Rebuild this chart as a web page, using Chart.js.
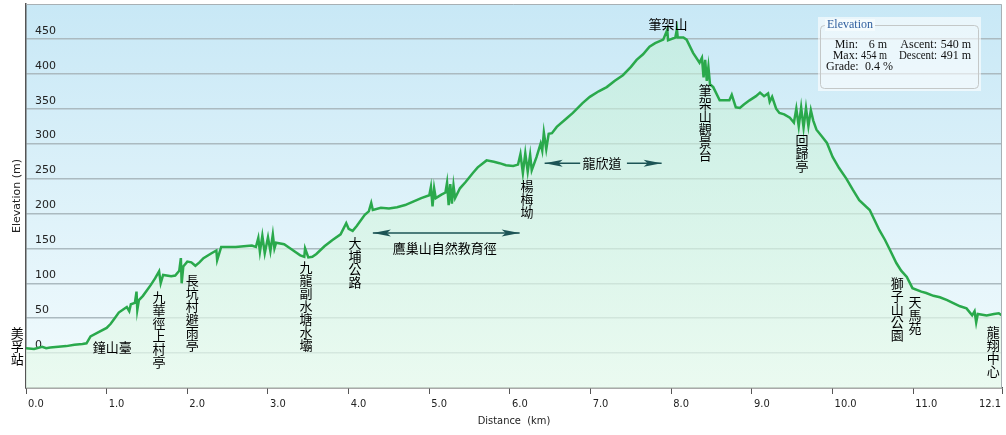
<!DOCTYPE html>
<html>
<head>
<meta charset="utf-8">
<script src="https://cdn.jsdelivr.net/npm/chart.js@4/dist/chart.umd.min.js"></script>
<style>
  html, body { margin: 0; padding: 0; background: #ffffff; }
  #wrap { width: 1006px; height: 435px; }
</style>
</head>
<body>
<div id="wrap"><canvas id="js--profile"></canvas></div>
<script>
// distance along the trail (km) and elevation (m)
const distKm = [
  0.00, 0.10, 0.20, 0.25, 0.30, 0.40, 0.50, 0.60, 0.70, 0.75,
  0.80, 0.90, 1.00, 1.05, 1.10, 1.15, 1.20, 1.25, 1.28, 1.30,
  1.35, 1.37, 1.38, 1.40, 1.45, 1.50, 1.55, 1.60, 1.65, 1.67,
  1.70, 1.80, 1.85, 1.90, 1.92, 1.93, 1.95, 2.00, 2.05, 2.10,
  2.15, 2.20, 2.30, 2.36, 2.37, 2.42, 2.50, 2.60, 2.70, 2.80,
  2.85, 2.88, 2.90, 2.93, 2.96, 3.00, 3.03, 3.06, 3.08, 3.10,
  3.20, 3.30, 3.40, 3.45, 3.46, 3.50, 3.55, 3.60, 3.70, 3.80,
  3.90, 3.97, 4.00, 4.05, 4.10, 4.20, 4.25, 4.28, 4.30, 4.40,
  4.50, 4.60, 4.70, 4.80, 4.90, 5.00, 5.02, 5.04, 5.06, 5.08,
  5.15, 5.20, 5.22, 5.24, 5.26, 5.28, 5.30, 5.32, 5.38, 5.45,
  5.54, 5.60, 5.71, 5.80, 5.87, 5.95, 6.04, 6.10, 6.13, 6.16,
  6.19, 6.22, 6.25, 6.27, 6.33, 6.38, 6.40, 6.42, 6.45, 6.48,
  6.52, 6.58, 6.70, 6.78, 6.90, 6.99, 7.10, 7.20, 7.30, 7.40,
  7.50, 7.57, 7.65, 7.73, 7.80, 7.90, 7.95, 7.96, 8.05, 8.07,
  8.08, 8.15, 8.19, 8.27, 8.35, 8.38, 8.40, 8.42, 8.44, 8.46,
  8.48, 8.52, 8.60, 8.66, 8.72, 8.75, 8.80, 8.85, 8.90, 8.97,
  9.05, 9.10, 9.15, 9.20, 9.22, 9.25, 9.30, 9.34, 9.40, 9.47,
  9.52, 9.55, 9.58, 9.61, 9.64, 9.67, 9.70, 9.73, 9.76, 9.80,
  9.87, 9.93, 10.00, 10.08, 10.17, 10.25, 10.33, 10.46, 10.58, 10.65,
  10.71, 10.79, 10.85, 10.92, 10.99, 11.10, 11.16, 11.25, 11.33, 11.42,
  11.49, 11.58, 11.66, 11.73, 11.76, 11.78, 11.80, 11.91, 12.00, 12.06,
  12.10
];
const elevM = [
  7, 6, 9, 7, 8, 9, 10, 12, 13, 14,
  24, 30, 36, 42, 50, 58, 62, 66, 60, 70,
  72, 88, 62, 76, 82, 90, 98, 107, 117, 100,
  112, 110, 111, 118, 136, 100, 124, 131, 130, 125,
  130, 136, 143, 147, 133, 152, 152, 152, 153, 154,
  152, 165, 145, 168, 143, 166, 146, 170, 150, 158,
  156, 148, 140, 138, 150, 137, 138, 142, 153, 162,
  170, 186, 178, 175, 182, 198, 203, 215, 205, 208,
  207, 209, 212, 217, 222, 226, 238, 210, 236, 222,
  227, 230, 244, 212, 242, 214, 240, 222, 236, 245,
  258, 266, 276, 274, 272, 269, 268, 270, 285, 258,
  286, 260, 284, 262, 281, 300, 290, 316, 292, 314,
  315, 324, 336, 344, 358, 367, 375, 381, 390, 398,
  410, 420, 428, 439, 444, 449, 463, 448, 452, 464,
  452, 452, 449, 430, 416, 423, 395, 420, 390, 410,
  385, 381, 362, 362, 362, 370, 352, 351, 356, 362,
  368, 373, 368, 372, 360, 367, 350, 344, 342, 337,
  330, 350, 325, 352, 323, 351, 325, 348, 333, 320,
  310, 301, 281, 265, 250, 234, 219, 205, 176, 162,
  148, 129, 118, 109, 93, 88, 86, 82, 80, 76,
  72, 67, 64, 54, 60, 44, 56, 54, 56, 57,
  54
];

const xTicks = [0, 1, 2, 3, 4, 5, 6, 7, 8, 9, 10, 11, 12.1];
const yTicks = [0, 50, 100, 150, 200, 250, 300, 350, 400, 450];

// place names: text, km, m (first character), vertical or not
const places = [
  ["美孚站", -0.11, 29, true],
  ["鐘山臺", 1.07, 9, false],
  ["九華徑上村亭", 1.65, 80, true],
  ["長坑村避雨亭", 2.06, 104, true],
  ["九龍副水塘水壩", 3.47, 123, true],
  ["大埔公路", 4.08, 157, true],
  ["鷹巢山自然教育徑", 5.19, 150, false],
  ["楊梅坳", 6.21, 239, true],
  ["龍欣道", 7.14, 272, false],
  ["筆架山", 7.96, 471, false],
  ["筆架山觀景台", 8.42, 377, true],
  ["回歸亭", 9.62, 305, true],
  ["獅子山公園", 10.80, 100, true],
  ["天馬苑", 11.02, 73, true],
  ["龍翔中心", 11.99, 30, true]
];
// trail sections: from km, to km, at m, gap for the name
const sections = [
  [4.30, 6.12, 172, 0, 0],
  [6.43, 7.88, 272, 6.87, 7.45]
];

const statsTitle = "Elevation";
const statsRows = [
  ["Min:", "6 m", "Ascent:", "540 m"],
  ["Max:", "454 m", "Descent:", "491 m"]
];
const gradeText = ["Grade:", "0.4 %"];

const points = distKm.map(function (d, i) {
  return { x: d, y: elevM[i] };
});

const cjkFont = '13px "Noto Sans CJK TC", "Noto Sans CJK SC", sans-serif';

const backdrop = {
  id: "backdrop",
  beforeDraw: function (chart) {
    const ctx = chart.ctx;
    const a = chart.chartArea;
    const g = ctx.createLinearGradient(0, a.top, 0, a.bottom);
    g.addColorStop(0, "#c8e8f6");
    g.addColorStop(1, "#f2fbfd");
    ctx.save();
    ctx.fillStyle = g;
    ctx.fillRect(a.left, a.top, a.right - a.left, a.bottom - a.top);
    ctx.restore();
  },
  afterDraw: function (chart) {
    const ctx = chart.ctx;
    const a = chart.chartArea;
    const xs = chart.scales.x;
    const ys = chart.scales.y;
    ctx.save();

    // frame top and right
    ctx.strokeStyle = "#a8b0b4";
    ctx.lineWidth = 1;
    ctx.beginPath();
    ctx.moveTo(a.left, a.top + 0.5);
    ctx.lineTo(a.right - 0.5, a.top + 0.5);
    ctx.lineTo(a.right - 0.5, a.bottom);
    ctx.stroke();

    // x tick labels
    ctx.fillStyle = "#222";
    ctx.font = '11px "DejaVu Sans Condensed", "Liberation Sans Narrow", "Liberation Sans", sans-serif';
    ctx.textBaseline = "middle";
    xs.ticks.forEach(function (t, i) {
      const px = xs.getPixelForValue(t.value);
      if (i === xs.ticks.length - 1) {
        ctx.textAlign = "right";
        ctx.fillText(t.value.toFixed(1), px - 1, a.bottom + 16);
      } else {
        ctx.textAlign = "left";
        ctx.fillText(t.value.toFixed(1), px + 2, a.bottom + 16);
      }
    });

    // place names
    ctx.fillStyle = "#000";
    ctx.font = cjkFont;
    ctx.textAlign = "center";
    ctx.textBaseline = "middle";
    places.forEach(function (p) {
      const px = xs.getPixelForValue(p[1]);
      const py = ys.getPixelForValue(p[2]);
      if (p[3]) {
        const chars = Array.from(p[0]);
        chars.forEach(function (c, k) {
          ctx.fillText(c, px, py + k * 13);
        });
      } else {
        ctx.fillText(p[0], px, py);
      }
    });

    // section arrows
    ctx.strokeStyle = "#1d5456";
    ctx.fillStyle = "#1d5456";
    ctx.lineWidth = 1.5;
    sections.forEach(function (s) {
      const x1 = xs.getPixelForValue(s[0]);
      const x2 = xs.getPixelForValue(s[1]);
      const py = ys.getPixelForValue(s[2]);
      ctx.beginPath();
      if (s[3]) {
        ctx.moveTo(x1, py);
        ctx.lineTo(xs.getPixelForValue(s[3]), py);
        ctx.moveTo(xs.getPixelForValue(s[4]), py);
        ctx.lineTo(x2, py);
      } else {
        ctx.moveTo(x1, py);
        ctx.lineTo(x2, py);
      }
      ctx.stroke();
      [[x1, 1], [x2, -1]].forEach(function (h) {
        ctx.beginPath();
        ctx.moveTo(h[0], py);
        ctx.lineTo(h[0] + h[1] * 18, py - 3.5);
        ctx.lineTo(h[0] + h[1] * 14, py);
        ctx.lineTo(h[0] + h[1] * 18, py + 3.5);
        ctx.closePath();
        ctx.fill();
      });
    });

    // stats box
    const bx = a.right - 184;
    const by = a.top + 13;
    ctx.fillStyle = "rgba(255,255,255,0.6)";
    ctx.fillRect(bx, by, 163, 74);
    ctx.strokeStyle = "#c4c8c8";
    ctx.lineWidth = 1;
    ctx.beginPath();
    ctx.roundRect(bx + 2.5, by + 8.5, 158, 63, 4);
    ctx.stroke();
    ctx.font = '12px "Liberation Serif", "DejaVu Serif", serif';
    const tw = ctx.measureText(statsTitle).width;
    ctx.fillStyle = "#f4fbfd";
    ctx.fillRect(bx + 7, by + 2, tw + 4, 12);
    ctx.fillStyle = "#2f5f9f";
    ctx.textAlign = "left";
    ctx.fillText(statsTitle, bx + 9, by + 8);
    ctx.fillStyle = "#111";
    statsRows.forEach(function (r, k) {
      const ty = by + 28 + k * 11;
      ctx.textAlign = "right";
      ctx.fillText(r[0], bx + 40, ty);
      ctx.fillText(r[1], bx + 69, ty, 26);
      ctx.fillText(r[2], bx + 119, ty, 38);
      ctx.fillText(r[3], bx + 153, ty, 31);
    });
    ctx.textAlign = "left";
    ctx.fillText(gradeText[0], bx + 8, by + 50);
    ctx.fillText(gradeText[1], bx + 47, by + 50);

    ctx.restore();
  }
};

const config = {
  type: "line",
  data: {
    datasets: [
      {
        label: "Elevation",
        data: points,
        borderColor: "#2aa94c",
        borderWidth: 2.5,
        pointRadius: 0,
        tension: 0,
        fill: "start",
        backgroundColor: function (context) {
          const a = context.chart.chartArea;
          if (!a) {
            return "rgba(200,240,215,0.5)";
          }
          const g = context.chart.ctx.createLinearGradient(0, a.top, 0, a.bottom);
          g.addColorStop(0, "rgba(190,238,212,0.55)");
          g.addColorStop(1, "rgba(232,250,236,0.75)");
          return g;
        }
      }
    ]
  },
  options: {
    responsive: true,
    maintainAspectRatio: false,
    animation: false,
    layout: { padding: { top: 4, right: 4, left: 0, bottom: 0 } },
    plugins: {
      legend: { display: false },
      tooltip: { enabled: false }
    },
    scales: {
      x: {
        type: "linear",
        min: 0,
        max: 12.1,
        afterBuildTicks: function (scale) {
          scale.ticks = xTicks.map(function (v) {
            return { value: v };
          });
        },
        afterFit: function (scale) {
          scale.height = 47;
          scale.paddingLeft = 0;
          scale.paddingRight = 0;
        },
        ticks: { display: false },
        grid: {
          drawOnChartArea: false,
          drawTicks: true,
          tickLength: 6,
          tickColor: "#555"
        },
        border: { color: "#555", width: 1.5 },
        title: {
          display: true,
          text: "Distance  (km)",
          color: "#222",
          font: { family: '"DejaVu Sans Condensed", "Liberation Sans Narrow", "Liberation Sans", sans-serif', size: 11 },
          padding: { top: 0, bottom: 7 }
        }
      },
      y: {
        min: -50,
        max: 500,
        afterBuildTicks: function (scale) {
          scale.ticks = yTicks.map(function (v) {
            return { value: v };
          });
        },
        afterFit: function (scale) {
          scale.width = 26;
          scale.paddingTop = 0;
          scale.paddingBottom = 0;
        },
        ticks: {
          mirror: true,
          padding: 9,
          labelOffset: -8,
          color: "#222",
          font: { family: '"DejaVu Sans", Verdana, sans-serif', size: 11 }
        },
        grid: {
          drawTicks: false,
          color: "#abbac0",
          lineWidth: 1.5
        },
        border: { color: "#555", width: 1.5 },
        title: {
          display: true,
          text: "Elevation (m)",
          color: "#222",
          font: { family: '"DejaVu Sans", Verdana, sans-serif', size: 11 },
          padding: { top: 11, bottom: 0 }
        }
      }
    }
  },
  plugins: [backdrop]
};

new Chart(document.getElementById("js--profile"), config);
</script>
</body>
</html>
